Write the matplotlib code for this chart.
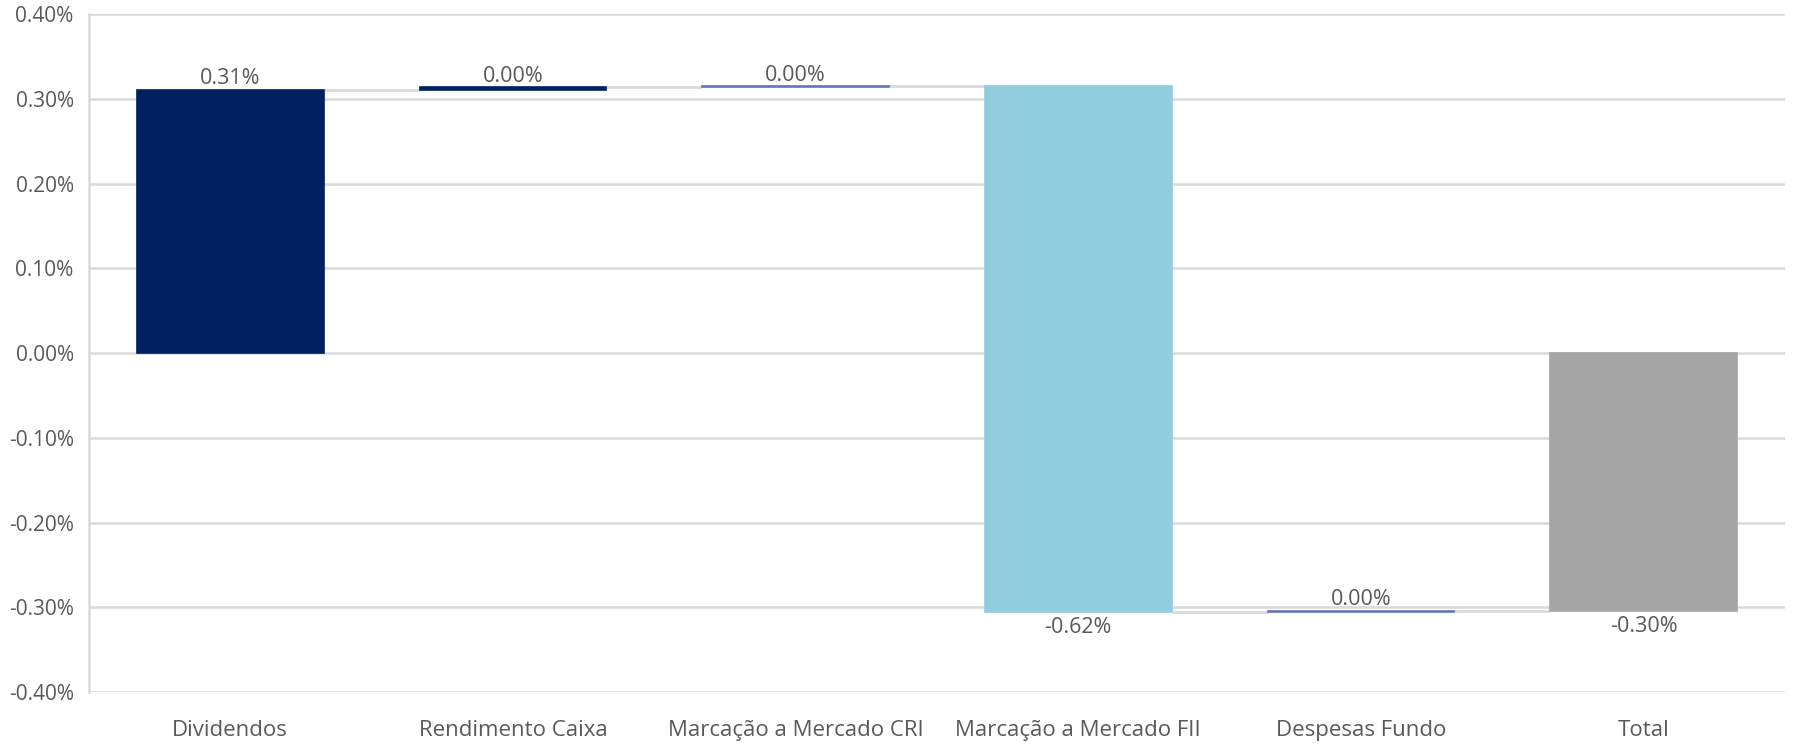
import numpy as np
import matplotlib
matplotlib.use("Agg")
import matplotlib.pyplot as plt
from matplotlib.ticker import FuncFormatter

# dados do waterfall (em %)
categorias = ["Dividendos", "Rendimento Caixa", "Marcação a Mercado CRI",
              "Marcação a Mercado FII", "Despesas Fundo", "Total"]
variacoes = [0.3105, 0.003, 0.0012, -0.620, 0.001]
cores = ["#002060", "#002060", "#6674B4", "#92CDDD", "#6674B4", "#A5A5A5"]

plt.rcParams["font.family"] = ["Open Sans", "DejaVu Sans"]
texto = "#595959"

total = sum(variacoes)
acumulado = np.cumsum([0] + variacoes)
bases = list(acumulado[:-1]) + [0]
alturas = variacoes + [total]

fig = plt.figure(figsize=(17.93, 7.45), dpi=100)
ax = fig.add_axes([0.0496, 0.0711, 0.9459, 0.9099])

x = np.arange(len(categorias))
largura = 0.66
ax.bar(x, alturas, bottom=bases, width=largura, color=cores,
       edgecolor=cores, linewidth=1.2, zorder=3)

# linhas de ligação entre as barras
for i in range(len(categorias) - 1):
    ax.hlines(acumulado[i + 1], x[i] + largura / 2, x[i + 1] - largura / 2,
              color="#D9D9D9", linewidth=2, zorder=2)

# rótulos de dados
for i, (b, h) in enumerate(zip(bases, alturas)):
    rotulo = f"{h:.2f}%"
    if h >= 0:
        ax.annotate(rotulo, (x[i], b + h), xytext=(0, 0.5), textcoords="offset points",
                    ha="center", va="bottom", fontsize=15.5, color=texto)
    else:
        ax.annotate(rotulo, (x[i], b + h), xytext=(0, -4), textcoords="offset points",
                    ha="center", va="top", fontsize=15.5, color=texto)


def fmt_pct(v, pos):
    v = round(v, 4) + 0.0
    if abs(v) < 1e-9:
        v = 0.0
    return f"{v:.2f}%"


ax.set_xlim(-0.5, len(categorias) - 0.5)
ax.set_ylim(-0.40, 0.40)
ax.set_yticks(np.arange(-0.40, 0.401, 0.10))
ax.yaxis.set_major_formatter(FuncFormatter(fmt_pct))
ax.set_xticks(x)
ax.set_xticklabels(categorias)
ax.tick_params(axis="both", length=0, colors=texto)
ax.tick_params(axis="x", pad=20, labelsize=16)
ax.tick_params(axis="y", pad=11, labelsize=15)

ax.grid(axis="y", color="#D9D9D9", linewidth=1.8, zorder=0)
for s in ["top", "right", "bottom"]:
    ax.spines[s].set_visible(False)
ax.spines["left"].set_color("#D9D9D9")
ax.spines["left"].set_linewidth(1.8)

fig.savefig("out.png", dpi=100)
